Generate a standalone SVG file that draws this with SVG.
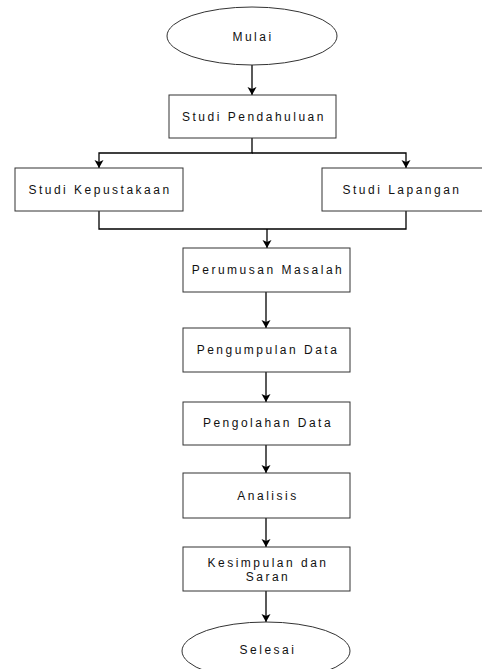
<svg xmlns="http://www.w3.org/2000/svg" width="482" height="669" viewBox="0 0 482 669">
<style>
.shape{fill:#fff;stroke:#333;stroke-width:1}
.lbl{font-family:"Liberation Sans",Arial,sans-serif;font-size:12px;letter-spacing:2.5px;fill:#111;text-anchor:middle;dominant-baseline:central}
.conn{fill:none;stroke:#000;stroke-width:1.3}
</style>
<defs>
<marker id="arr" markerUnits="userSpaceOnUse" markerWidth="10" markerHeight="10" refX="8" refY="5" orient="auto">
<path d="M0,0.5 L8,5 L0,9.5 L2,5 Z" fill="#000"/>
</marker>
</defs>
<rect width="482" height="669" fill="#fff"/>
<g id="connectors">
<path class="conn" d="M252,65 V95" marker-end="url(#arr)"/>
<path class="conn" d="M252,138 V153 H99 V168" marker-end="url(#arr)"/>
<path class="conn" d="M252,153 H406 V168" marker-end="url(#arr)"/>
<path class="conn" d="M99,211 V229 H406 V211"/>
<path class="conn" d="M267,229 V248" marker-end="url(#arr)"/>
<path class="conn" d="M266,292 V328" marker-end="url(#arr)"/>
<path class="conn" d="M266,372 V402" marker-end="url(#arr)"/>
<path class="conn" d="M266,445 V473" marker-end="url(#arr)"/>
<path class="conn" d="M266,518 V547" marker-end="url(#arr)"/>
<path class="conn" d="M266,591 V622" marker-end="url(#arr)"/>
</g>
<g id="mulai">
<ellipse class="shape" cx="252" cy="36" rx="85" ry="29"/>
<text class="lbl" x="253" y="37">Mulai</text>
</g>
<g id="studi-pendahuluan">
<rect class="shape" x="169" y="95" width="167" height="43"/>
<text class="lbl" x="254" y="117">Studi Pendahuluan</text>
</g>
<g id="studi-kepustakaan">
<rect class="shape" x="15" y="168" width="168" height="43"/>
<text class="lbl" x="100" y="190">Studi Kepustakaan</text>
</g>
<g id="studi-lapangan">
<rect class="shape" x="322" y="168" width="170" height="43"/>
<text class="lbl" x="402" y="190">Studi Lapangan</text>
</g>
<g id="perumusan-masalah">
<rect class="shape" x="183" y="248" width="167" height="44"/>
<text class="lbl" x="268" y="270">Perumusan Masalah</text>
</g>
<g id="pengumpulan-data">
<rect class="shape" x="183" y="328" width="167" height="44"/>
<text class="lbl" x="268" y="350">Pengumpulan Data</text>
</g>
<g id="pengolahan-data">
<rect class="shape" x="183" y="402" width="167" height="43"/>
<text class="lbl" x="268" y="423">Pengolahan Data</text>
</g>
<g id="analisis">
<rect class="shape" x="183" y="473" width="167" height="45"/>
<text class="lbl" x="268" y="496">Analisis</text>
</g>
<g id="kesimpulan-dan-saran">
<rect class="shape" x="183" y="547" width="167" height="44"/>
<text class="lbl" x="268" y="562.5">Kesimpulan dan</text>
<text class="lbl" x="268" y="576.5">Saran</text>
</g>
<g id="selesai">
<ellipse class="shape" cx="266" cy="651" rx="84" ry="29"/>
<text class="lbl" x="268" y="650">Selesai</text>
</g>
</svg>
